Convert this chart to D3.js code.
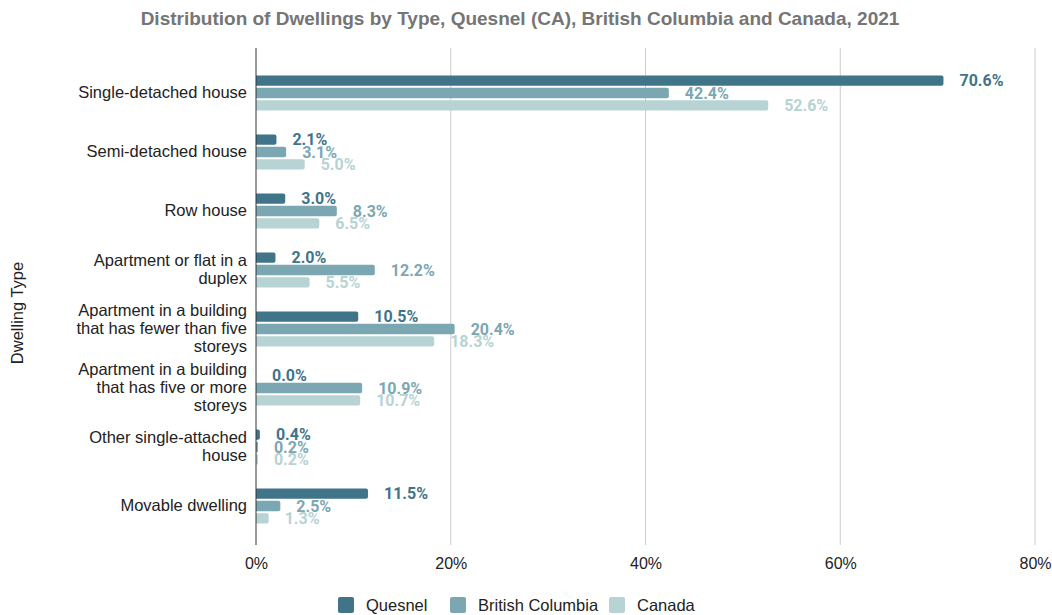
<!DOCTYPE html>
<html>
<head>
<meta charset="utf-8">
<script src="https://cdn.jsdelivr.net/npm/d3@7"></script>
<style>
  body { margin: 0; background: #fff; }
  svg { display: block; }
</style>
</head>
<body>
<svg id="chart" width="1052" height="615"></svg>
<script>
// Dwelling types (category axis), each entry is one wrapped label
const categories = [
  ["Single-detached house"],
  ["Semi-detached house"],
  ["Row house"],
  ["Apartment or flat in a", "duplex"],
  ["Apartment in a building", "that has fewer than five", "storeys"],
  ["Apartment in a building", "that has five or more", "storeys"],
  ["Other single-attached", "house"],
  ["Movable dwelling"]
];
const seriesNames = ["Quesnel", "British Columbia", "Canada"];
const quesnel = [70.6, 2.1, 3.0, 2.0, 10.5, 0.0, 0.4, 11.5];
const britishColumbia = [42.4, 3.1, 8.3, 12.2, 20.4, 10.9, 0.2, 2.5];
const canada = [52.6, 5.0, 6.5, 5.5, 18.3, 10.7, 0.2, 1.3];
const xTicks = [0, 20, 40, 60, 80];
const colors = ["#3f7489", "#7ba7b3", "#b7d3d4"];

const seriesValues = [quesnel, britishColumbia, canada];
const svg = d3.select("#chart");
const sans = "Liberation Sans, Arial, sans-serif";

const x = d3.scaleLinear().domain([0, 80]).range([256, 1035]);
const y = d3.scaleBand().domain(d3.range(categories.length)).range([63.5, 535.5]);
const inner = d3.scaleBand().domain(d3.range(seriesNames.length))
  .range([0, 35]).paddingInner(0.17);
const plotTop = 48, plotBottom = 545;

// Title
svg.append("text")
  .attr("x", 520).attr("y", 25)
  .attr("text-anchor", "middle")
  .attr("font-family", sans)
  .attr("font-weight", "bold")
  .attr("font-size", 19)
  .attr("fill", "#757575")
  .text("Distribution of Dwellings by Type, Quesnel (CA), British Columbia and Canada, 2021");

// Vertical gridlines
svg.append("g").selectAll("line")
  .data(xTicks.filter(t => t !== 0))
  .join("line")
  .attr("x1", d => x(d)).attr("x2", d => x(d))
  .attr("y1", plotTop).attr("y2", plotBottom)
  .attr("stroke", "#cccccc").attr("stroke-width", 1);

// Bottom axis tick labels
const xAxis = d3.axisBottom(x).tickValues(xTicks).tickFormat(d => d + "%").tickSize(0);
const gx = svg.append("g").attr("transform", `translate(0,${plotBottom + 10})`).call(xAxis);
gx.select(".domain").remove();
gx.selectAll("text")
  .attr("font-family", sans)
  .attr("font-size", 16)
  .attr("fill", "#222");

// Bars with slightly rounded ends, plus value labels
seriesValues.forEach((vals, s) => {
  const barY = i => y(i) + (y.bandwidth() - 35) / 2 + inner(s);
  svg.append("g").selectAll("path")
    .data(vals.map((v, i) => ({ v, i })))
    .join("path")
    .attr("fill", colors[s])
    .attr("d", d => {
      const x0 = x(0), x1 = x(d.v);
      const y0 = barY(d.i);
      const h = inner.bandwidth();
      const w = x1 - x0;
      const r = Math.min(2, w / 2);
      if (w <= 0) return "";
      return `M${x0},${y0}H${x1 - r}Q${x1},${y0} ${x1},${y0 + r}V${y0 + h - r}Q${x1},${y0 + h} ${x1 - r},${y0 + h}H${x0}Z`;
    });

  svg.append("g").selectAll("text")
    .data(vals.map((v, i) => ({ v, i })))
    .join("text")
    .attr("x", d => x(d.v) + 16)
    .attr("y", d => barY(d.i) + inner.bandwidth() / 2)
    .attr("dy", "0.36em")
    .attr("font-family", "Roboto, sans-serif")
    .attr("font-weight", "bold")
    .attr("font-size", 16)
    .attr("fill", colors[s])
    .text(d => d.v.toFixed(1) + "%");
});

// Zero axis line
svg.append("line")
  .attr("x1", x(0)).attr("x2", x(0))
  .attr("y1", plotTop).attr("y2", plotBottom)
  .attr("stroke", "#333").attr("stroke-width", 1);

// Category labels
const lineH = 18;
svg.append("g").selectAll("text")
  .data(categories.map((lines, i) => ({ lines, i })))
  .join("text")
  .attr("text-anchor", "end")
  .attr("font-family", sans)
  .attr("font-size", 16.5)
  .attr("fill", "#222")
  .each(function (d) {
    const cy = y(d.i) + y.bandwidth() / 2 - 1;
    const startY = cy - (d.lines.length - 1) * lineH / 2;
    d3.select(this).selectAll("tspan")
      .data(d.lines)
      .join("tspan")
      .attr("x", 247)
      .attr("y", (l, k) => startY + k * lineH)
      .attr("dy", "0.35em")
      .text(l => l);
  });

// Y axis title
svg.append("text")
  .attr("transform", "translate(17,313) rotate(-90)")
  .attr("text-anchor", "middle")
  .attr("dy", "0.35em")
  .attr("font-family", sans)
  .attr("font-size", 16.5)
  .attr("fill", "#222")
  .text("Dwelling Type");

// Legend
const legendX = [338, 450, 609];
const legend = svg.append("g").selectAll("g")
  .data(seriesNames.map((n, i) => ({ n, i })))
  .join("g")
  .attr("transform", d => `translate(${legendX[d.i]},597)`);
legend.append("rect")
  .attr("width", 16).attr("height", 16).attr("rx", 2)
  .attr("fill", d => colors[d.i]);
legend.append("text")
  .attr("x", 28).attr("y", 8).attr("dy", "0.36em")
  .attr("font-family", sans)
  .attr("font-size", 16.5)
  .attr("fill", "#222")
  .text(d => d.n);
</script>
</body>
</html>
